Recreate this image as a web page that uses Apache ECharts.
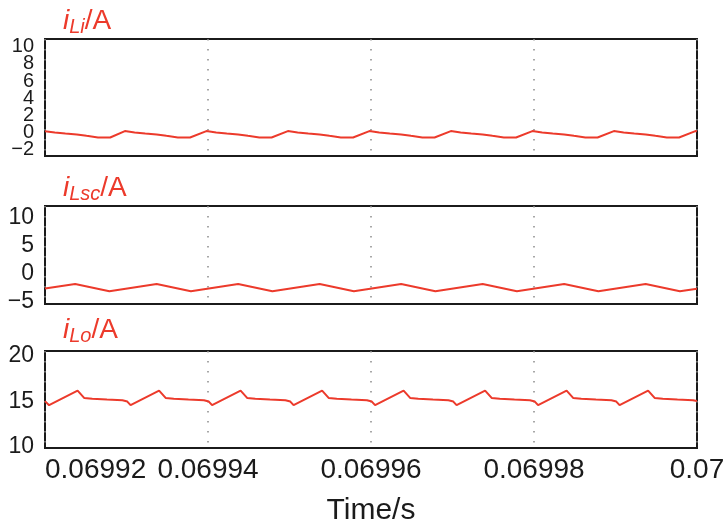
<!DOCTYPE html>
<html>
<head>
<meta charset="utf-8">
<script src="https://cdn.jsdelivr.net/npm/echarts@6/dist/echarts.min.js"></script>
<style>
html, body { margin: 0; padding: 0; background: #fff; }
#chart { width: 728px; height: 528px; }
</style>
</head>
<body>
<div id="chart"></div>
<script>
// time in microseconds, labels are shown in seconds
const tLi = [69920.0, 69921.2, 69922.5, 69923.9, 69925.1, 69926.5, 69928.0, 69929.8,
  69931.0, 69932.3, 69933.7, 69934.9, 69936.3, 69937.8, 69939.8,
  69941.0, 69942.3, 69943.7, 69944.9, 69946.3, 69947.8, 69949.8,
  69951.0, 69952.3, 69953.7, 69954.9, 69956.3, 69957.8, 69959.8,
  69961.0, 69962.3, 69963.7, 69964.9, 69966.3, 69967.8, 69969.8,
  69971.0, 69972.3, 69973.7, 69974.9, 69976.3, 69977.8, 69979.8,
  69981.0, 69982.3, 69983.7, 69984.9, 69986.3, 69987.8, 69989.8,
  69991.0, 69992.3, 69993.7, 69994.9, 69996.3, 69997.8, 69999.8, 70000.0];
const iLi = [0.15, 0.0, -0.12, -0.24, -0.4, -0.58, -0.59, 0.16,
  0.0, -0.12, -0.24, -0.4, -0.58, -0.59, 0.16,
  0.0, -0.12, -0.24, -0.4, -0.58, -0.59, 0.16,
  0.0, -0.12, -0.24, -0.4, -0.58, -0.59, 0.16,
  0.0, -0.12, -0.24, -0.4, -0.58, -0.59, 0.16,
  0.0, -0.12, -0.24, -0.4, -0.58, -0.59, 0.16,
  0.0, -0.12, -0.24, -0.4, -0.58, -0.59, 0.16,
  0.0, -0.12, -0.24, -0.4, -0.58, -0.59, 0.16, 0.14];

const tLsc = [69920.0, 69923.7, 69927.9, 69933.7, 69937.9, 69943.7, 69947.9, 69953.7, 69957.9,
  69963.7, 69967.9, 69973.7, 69977.9, 69983.7, 69987.9, 69993.7, 69997.9, 70000.0];
const iLsc = [-2.72, -1.9, -3.2, -1.9, -3.2, -1.9, -3.2, -1.9, -3.2,
  -1.9, -3.2, -1.9, -3.2, -1.9, -3.2, -1.9, -3.2, -2.75];

const tLo = [69920.0,
  69920.5, 69924.0, 69924.8, 69925.8, 69927.6, 69929.5, 69930.1,
  69930.5, 69934.0, 69934.8, 69935.8, 69937.6, 69939.5, 69940.1,
  69940.5, 69944.0, 69944.8, 69945.8, 69947.6, 69949.5, 69950.1,
  69950.5, 69954.0, 69954.8, 69955.8, 69957.6, 69959.5, 69960.1,
  69960.5, 69964.0, 69964.8, 69965.8, 69967.6, 69969.5, 69970.1,
  69970.5, 69974.0, 69974.8, 69975.8, 69977.6, 69979.5, 69980.1,
  69980.5, 69984.0, 69984.8, 69985.8, 69987.6, 69989.5, 69990.1,
  69990.5, 69994.0, 69994.8, 69995.8, 69997.6, 69999.5, 70000.0];
const iLo = [15.05,
  14.6, 16.2, 15.4, 15.3, 15.22, 15.15, 15.0,
  14.6, 16.2, 15.4, 15.3, 15.22, 15.15, 15.0,
  14.6, 16.2, 15.4, 15.3, 15.22, 15.15, 15.0,
  14.6, 16.2, 15.4, 15.3, 15.22, 15.15, 15.0,
  14.6, 16.2, 15.4, 15.3, 15.22, 15.15, 15.0,
  14.6, 16.2, 15.4, 15.3, 15.22, 15.15, 15.0,
  14.6, 16.2, 15.4, 15.3, 15.22, 15.15, 15.0,
  14.6, 16.2, 15.4, 15.3, 15.22, 15.15, 15.05];

// top panel labels are packed tightly, so they are split over two axes
const yTicksLiA = [-2, 2, 6, 10];
const yTicksLiB = [0, 4, 8];
const yTicksLsc = [-5, 0, 5, 10];
const yTicksLo = [10, 15, 20];
const titles = [['Li', '/A'], ['Lsc', '/A'], ['Lo', '/A']];

const FONT = 'Liberation Sans, Arial, sans-serif';
const RED = '#ec3a2b';
const INK = '#1b1b1b';

function zip(t, v) {
  return t.map((x, i) => [x, v[i]]);
}
function minus(v) {
  return v < 0 ? '\u2212' + Math.abs(v) : String(v);
}

const grids = [
  { left: 45, right: 31, top: 39, height: 117 },
  { left: 45, right: 31, top: 206, height: 98 },
  { left: 45, right: 31, top: 351, height: 97 }
];
const titleTops = [0, 167, 309];
const yRanges = [[-2.75, 10.9], [-5.5, 12.1], [9.9, 20.55], [-2.75, 10.9]];
const yTicks = [yTicksLiA, yTicksLsc, yTicksLo, yTicksLiB];
const yGrid = [0, 1, 2, 0];
const yFont = [20, 23, 23, 20];

let chart = echarts.init(document.getElementById('chart'));
const options = {
  animation: false,
  backgroundColor: '#fff',
  title: titles.map((tt, i) => ({
    left: 58,
    top: titleTops[i],
    text: '{i|i}{s|' + tt[0] + '}{n|' + tt[1] + '}',
    textStyle: {
      fontWeight: 'normal',
      rich: {
        i: { fontFamily: FONT, fontStyle: 'italic', fontWeight: 'normal', fontSize: 28, color: RED },
        s: { fontFamily: FONT, fontStyle: 'italic', fontWeight: 'normal', fontSize: 20, color: RED, padding: [12, 0, 0, 0] },
        n: { fontFamily: FONT, fontWeight: 'normal', fontSize: 28, color: RED }
      }
    }
  })),
  grid: grids.map(g => Object.assign({
    show: true,
    borderColor: INK,
    borderWidth: 2,
    backgroundColor: 'transparent'
  }, g)),
  xAxis: grids.map((g, i) => ({
    type: 'value',
    gridIndex: i,
    min: 69920,
    max: 70000,
    interval: 20,
    axisLine: { show: false },
    axisTick: { show: false },
    splitLine: {
      show: true,
      lineStyle: { color: '#8a8a8a', width: 1.5, type: [1.5, 8.5] }
    },
    axisLabel: {
      show: i === 2,
      margin: 8,
      fontFamily: FONT,
      fontSize: 28,
      color: INK,
      alignMinLabel: 'left',
      formatter: v => String(+(v / 1e6).toFixed(5))
    },
    name: i === 2 ? 'Time/s' : '',
    nameLocation: 'middle',
    nameGap: 48,
    nameTextStyle: { fontFamily: FONT, fontSize: 30, color: INK }
  })),
  yAxis: yRanges.map((r, i) => ({
    type: 'value',
    gridIndex: yGrid[i],
    position: 'left',
    min: r[0],
    max: r[1],
    axisLine: { show: false },
    axisTick: { show: false },
    splitLine: { show: false },
    axisLabel: {
      customValues: yTicks[i],
      showMinLabel: true,
      showMaxLabel: true,
      margin: 11,
      fontFamily: FONT,
      fontSize: yFont[i],
      color: INK,
      formatter: minus
    }
  })),
  series: [zip(tLi, iLi), zip(tLsc, iLsc), zip(tLo, iLo)].map((d, i) => ({
    type: 'line',
    xAxisIndex: i,
    yAxisIndex: i,
    data: d,
    showSymbol: false,
    lineStyle: { color: RED, width: 2 }
  }))
};
chart.setOption(options);
</script>
</body>
</html>
